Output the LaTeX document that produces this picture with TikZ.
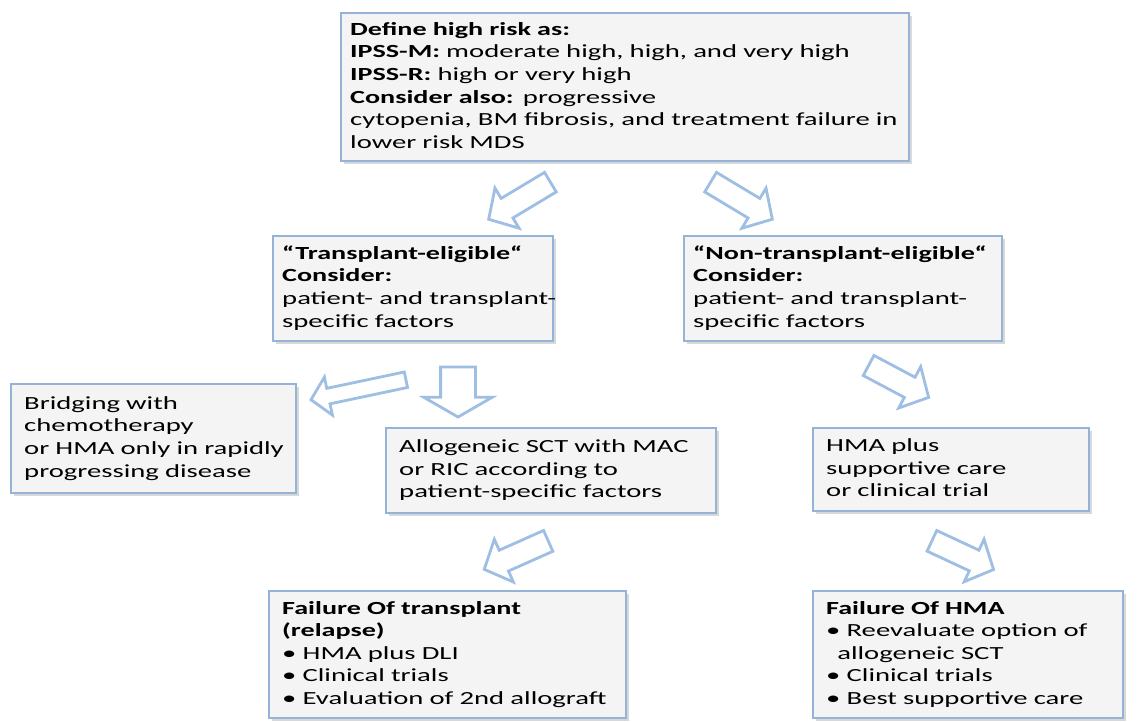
\documentclass[tikz,border=0pt]{standalone}
\usepackage{fontspec}
\setmainfont{Carlito}[FakeStretch=1.55, BoldFeatures={FakeStretch=1.52}]
\usetikzlibrary{shapes.arrows,shadows}
\definecolor{frame}{RGB}{149,179,215}
\definecolor{pointer}{RGB}{158,190,228}
\definecolor{panel}{RGB}{244,244,244}
\newcommand{\boxlines}[1]{\begin{tabular}{@{}l@{}}#1\end{tabular}}

\begin{document}
\begin{tikzpicture}[
  x=1pt, y=-1pt,
  box/.style={draw=frame, line width=2.4pt, fill=panel, anchor=north west, align=left,
    inner xsep=9pt, inner ysep=0pt, font=\fontsize{18.5}{22.6}\selectfont,
    drop shadow={shadow xshift=3pt, shadow yshift=-3pt, fill=black!30}},
  blk/.style={single arrow, draw=pointer, line width=2.8pt, fill=white, inner xsep=0pt, inner ysep=10pt,
    single arrow head extend=12pt, single arrow tip angle=95, minimum height=72pt}
]
  \fill[white] (0,0) rectangle (1144,722);

  \node[box, text width=550pt, minimum height=148pt] (risk) at (340,12)
    {\boxlines{\textbf{Define high risk as:}\\
     \textbf{IPSS-M:} moderate high, high, and very high\\
     \textbf{IPSS-R:} high or very high\\
     \textbf{Consider also:} progressive\\
     cytopenia, BM fibrosis, and treatment failure in\\
     lower risk MDS}};
  \node[box, text width=262pt, minimum height=105pt] (elig) at (272,235)
    {\boxlines{\textbf{“Transplant-eligible“}\\
     \textbf{Consider:}\\
     patient- and transplant-\\
     specific factors}};
  \node[box, text width=300pt, minimum height=105pt] (nonelig) at (683,235)
    {\boxlines{\textbf{“Non-transplant-eligible“}\\
     \textbf{Consider:}\\
     patient- and transplant-\\
     specific factors}};
  \node[box, inner xsep=13pt, text width=259pt, minimum height=109pt] (bridge) at (10,383)
    {\boxlines{Bridging with\\
     chemotherapy\\
     or HMA only in rapidly\\
     progressing disease}};
  \node[box, inner xsep=13pt, text width=304pt, minimum height=85pt] (allo) at (385,427)
    {\boxlines{Allogeneic SCT with MAC\\
     or RIC according to\\
     patient-specific factors}};
  \node[box, inner xsep=13pt, text width=250pt, minimum height=83pt] (hma) at (812,427)
    {\boxlines{HMA plus\\
     supportive care\\
     or clinical trial}};
  \node[box, inner xsep=13pt, text width=331pt, minimum height=127pt] (relapse) at (268,590)
    {\boxlines{\textbf{Failure Of transplant}\\
     \textbf{(relapse)}\\
     • HMA plus DLI\\
     • Clinical trials\\
     • Evaluation of 2nd allograft}};
  \node[box, inner xsep=13pt, text width=284pt, minimum height=127pt] (hmafail) at (812,590)
    {\boxlines{\textbf{Failure Of HMA}\\
     • Reevaluate option of\\
     \hspace*{0.6em}allogeneic SCT\\
     • Clinical trials\\
     • Best supportive care}};

  \node[blk, rotate=211] (toelig) at (524,198) {};
  \node[blk, rotate=-31] (tononelig) at (737,198) {};
  \node[blk, rotate=-90, inner ysep=16pt, single arrow head extend=17pt,
    single arrow tip angle=120, minimum height=50pt] (toallo) at (458,387) {};
  \node[blk, rotate=191.9, inner ysep=6.5pt, single arrow head extend=11.5pt,
    minimum height=97pt] (tobridge) at (362,389) {};
  \node[blk, rotate=-28, minimum height=68pt] (tohma) at (894,379) {};
  \node[blk, rotate=204, minimum height=70pt] (torelapse) at (521,553) {};
  \node[blk, rotate=-25, minimum height=68pt] (tohmafail) at (958,553) {};
\end{tikzpicture}
\end{document}
